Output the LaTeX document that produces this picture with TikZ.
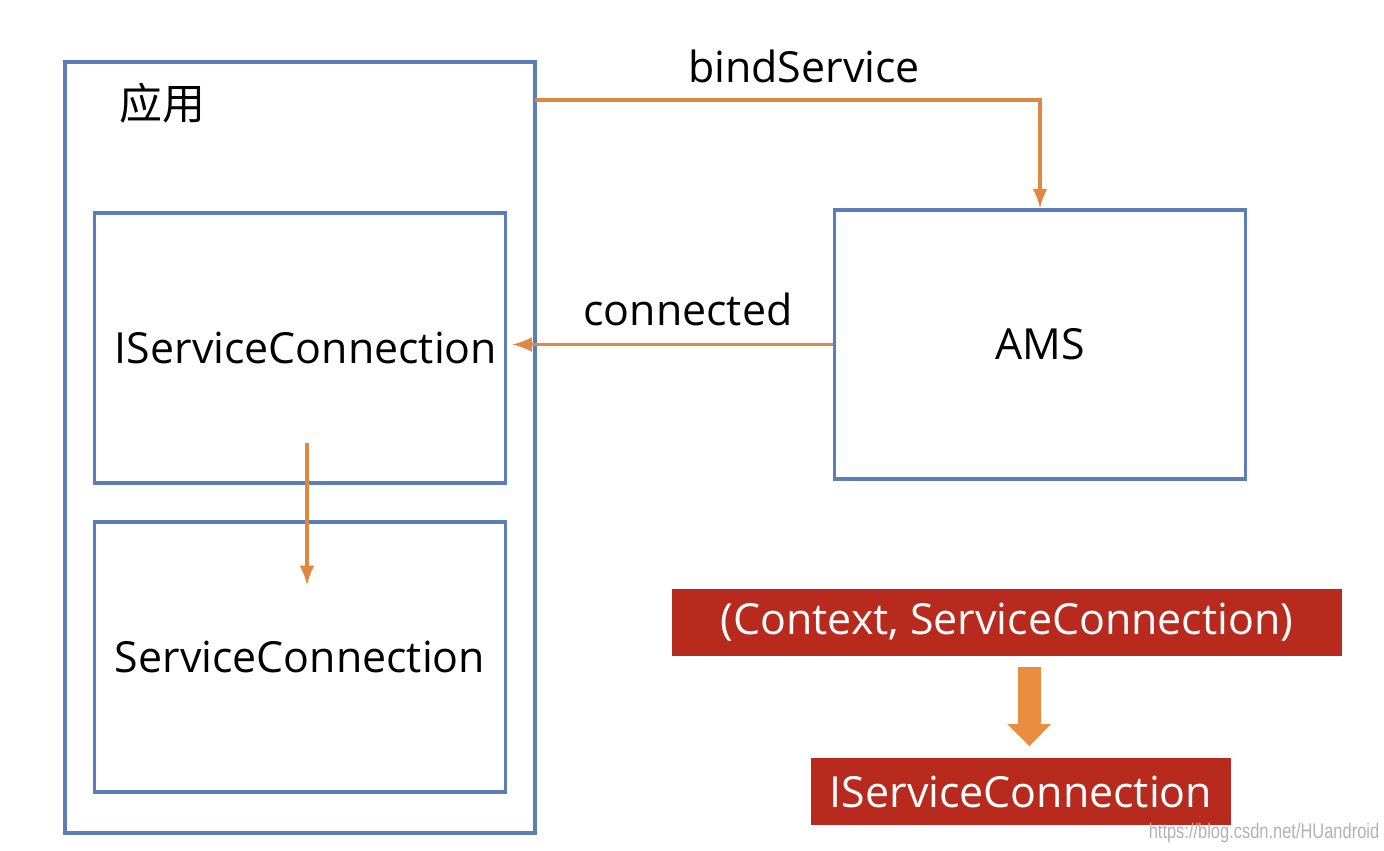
\documentclass[tikz,border=0pt]{standalone}
\usepackage{fontspec}
\setmainfont{Open Sans}
\newfontfamily\cjk{Noto Sans CJK SC}
\newfontfamily\wmfont[FakeStretch=0.78]{Liberation Sans}
\definecolor{boxblue}{HTML}{5B7DB9}
\definecolor{lineorange}{HTML}{E0883F}
\definecolor{boxred}{HTML}{B82A1E}
\definecolor{fillorange}{HTML}{E98E40}
\begin{document}
\begin{tikzpicture}[x=0.1mm,y=-0.1mm]
  \tikzset{ frame/.style={draw=boxblue,line width=1.1pt,inner sep=0pt},
    redlabel/.style={fill=boxred,text=white,inner sep=0pt,minimum height=6.7mm},
    arr/.style={draw=lineorange,line width=0.9pt,-latex},
    lbl/.style={anchor=base,inner sep=0pt},
  }
  \fontsize{12.2}{14}\selectfont
  \useasboundingbox (0,0) rectangle (1384,850);

  \node[frame,minimum width=47mm,minimum height=77.1mm] (app) at (300,447.5) {};
  \node[inner sep=0pt] (applbl) at (162,103) {\cjk 应用};
  \node[frame,minimum width=41.1mm,minimum height=27mm] (isc) at (300,348) {\hspace{1.2mm}IServiceConnection};
  \node[frame,minimum width=41.1mm,minimum height=27mm] (sc) at (300,657) {ServiceConnection};
  \node[frame,minimum width=41.1mm,minimum height=26.9mm] (ams) at (1040,344.5) {AMS};

  \node[redlabel,minimum width=67mm] (ctx) at (1007,622) {(Context, ServiceConnection)};
  \node[redlabel,minimum width=42mm] (iscred) at (1021,791.5) {IServiceConnection};

  % the connection between the boxes
  \coordinate (bs) at (535,100);
  \draw[arr] (bs) -| (ams.north);
  \node[lbl] (bslbl) at (804,82) {bindService};
  \draw[arr,shorten >=0.5mm] (ams.west) -- (ams.west -| isc.east);
  \node[lbl] (conlbl) at (688,325) {connected};
  \coordinate (a1) at (307,443);
  \coordinate (a2) at (307,585);
  \draw[arr] (a1) -- (a2);

  % block arrow between the red labels
  \fill[fillorange] (1018,667) -- (1041,667) -- (1041,724) -- (1051,724) -- (1029.5,746)
    -- (1007,724) -- (1018,724) -- cycle;

  \node[lbl,text=black!30] (wm) at (1264,838) {\wmfont\fontsize{6}{7}\selectfont https://blog.csdn.net/HUandroid};
\end{tikzpicture}
\end{document}
